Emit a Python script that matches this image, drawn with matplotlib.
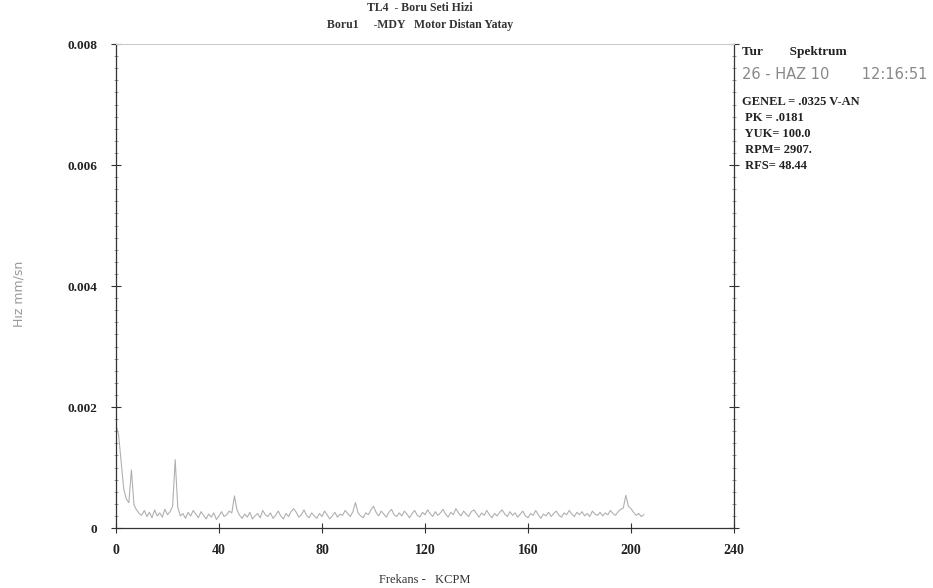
import numpy as np
import matplotlib.pyplot as plt
from matplotlib.ticker import MultipleLocator

# frekans ekseni (KCPM) ve hiz genligi (mm/sn)
frekans = np.arange(0, 206)
genlik_e4 = [
    17.0, 15.5, 11.0, 6.5, 4.8, 4.2, 9.6, 3.8, 3.0, 2.4,
    2.1, 2.9, 1.9, 2.6, 1.7, 3.0, 2.0, 2.5, 1.8, 3.1,
    2.2, 2.7, 3.6, 11.3, 3.4, 2.0, 2.4, 1.6, 2.6, 2.0,
    2.9, 2.3, 1.7, 2.7, 2.1, 1.5, 2.3, 1.8, 2.5, 1.4,
    2.0, 2.7, 1.9, 2.2, 2.8, 2.5, 5.3, 3.0, 2.1, 1.6,
    2.3, 1.8, 2.6, 1.5, 2.0, 2.4, 1.7, 2.9, 2.2, 1.9,
    2.5, 1.6, 2.1, 2.8, 2.0, 1.5, 2.4, 1.9, 2.7, 3.2,
    2.6, 1.8, 2.2, 3.0, 2.1, 1.7, 2.5, 2.0, 1.6, 2.4,
    1.9, 2.8, 2.2, 1.5, 2.0, 2.6, 1.8, 2.3, 2.1, 2.9,
    2.4, 1.9, 2.7, 4.2, 2.5, 2.0, 1.7, 2.5, 2.2, 3.0,
    3.6, 2.6, 2.0, 2.8, 2.3, 1.8, 2.6, 3.1, 2.2, 1.9,
    2.5, 2.0, 2.8, 2.3, 1.7, 2.4, 2.9, 2.1, 1.8, 2.6,
    2.2, 3.0, 2.4, 1.9, 2.7, 2.1, 2.5, 3.1, 2.3, 1.8,
    2.6, 2.2, 3.2, 2.5, 2.0, 2.8, 2.3, 1.9, 2.7, 3.0,
    2.4, 1.8, 2.5, 2.1, 2.9, 2.2, 1.7, 2.4, 2.0, 2.6,
    3.0, 2.3, 1.9, 2.7, 2.1, 2.5, 1.8, 2.3, 2.8, 2.0,
    1.7, 2.4, 2.1, 2.9, 2.2, 1.6, 2.3, 2.0, 2.6, 1.9,
    2.4, 2.8, 2.1, 1.8, 2.5, 2.2, 2.9, 2.3, 1.9, 2.6,
    2.2, 2.7, 2.0, 2.4, 1.9, 2.8, 2.3, 2.1, 2.6, 2.0,
    2.5, 2.2, 2.9, 2.4, 2.1, 2.7, 3.1, 3.3, 5.4, 3.6,
    3.2, 2.6, 2.1, 2.4, 1.9, 2.2,
]
genlik = np.array(genlik_e4) * 1e-4  # 1e-4 mm/sn -> mm/sn

x_ticks = [0, 40, 80, 120, 160, 200, 240]
y_ticks = [0, 0.002, 0.004, 0.006, 0.008]
y_labels = ['0', '0.002', '0.004', '0.006', '0.008']

serif = 'Liberation Serif'

fig = plt.figure(figsize=(9.33, 5.88), dpi=100)
ax = fig.add_axes([0.1243, 0.102, 0.6624, 0.823])

ax.plot(frekans, genlik, color='#b0b0b0', linewidth=0.8)

ax.set_xlim(0, 240)
ax.set_ylim(0, 0.008)
ax.set_xticks(x_ticks)
ax.set_xticklabels([str(t) for t in x_ticks], fontfamily=serif, fontweight='bold', fontsize=10, color='#222222')
ax.set_yticks(y_ticks)
ax.set_yticklabels(y_labels, fontfamily=serif, fontweight='bold', fontsize=9.5, color='#222222')
ax.yaxis.set_minor_locator(MultipleLocator(0.0002))
ax.tick_params(axis='both', which='major', direction='inout', length=7, width=0.8, color='#333333')
ax.tick_params(axis='y', which='major', right=True, pad=10)
ax.tick_params(axis='y', which='minor', direction='inout', length=2.5, width=0.5, color='#777777', right=True)
ax.tick_params(axis='x', which='major', pad=8)

for side in ['left', 'bottom', 'right']:
    ax.spines[side].set_color('#333333')
    ax.spines[side].set_linewidth(0.9)
ax.spines['top'].set_color('#cccccc')
ax.spines['top'].set_linewidth(0.8)

ax.set_xlabel('Frekans -   KCPM', fontfamily=serif, fontsize=9, color='#333333', labelpad=12)
fig.text(0.02, 0.5, 'Hız mm/sn', rotation=90, ha='center', va='center',
         fontsize=9, color='#999999', fontfamily='DejaVu Sans')

# baslik
fig.text(0.45, 0.986, 'TL4  - Boru Seti Hizi', ha='center', va='center',
         fontfamily=serif, fontweight='bold', fontsize=8.5, color='#333333')
fig.text(0.45, 0.957, 'Boru1     -MDY   Motor Distan Yatay', ha='center', va='center',
         fontfamily=serif, fontweight='bold', fontsize=8.5, color='#333333')

# sag taraftaki bilgi kutusu
fig.text(0.795, 0.912, 'Tur        Spektrum', ha='left', va='center',
         fontfamily=serif, fontweight='bold', fontsize=9.5, color='#222222')
fig.text(0.795, 0.874, '26 - HAZ 10       12:16:51', ha='left', va='center',
         fontfamily='DejaVu Sans', fontsize=10.5, color='#888888')
info = ['GENEL = .0325 V-AN', ' PK = .0181', ' YUK= 100.0', ' RPM= 2907.', ' RFS= 48.44']
for i, s in enumerate(info):
    fig.text(0.795, 0.826 - i * 0.027, s, ha='left', va='center',
             fontfamily=serif, fontweight='bold', fontsize=9, color='#222222')

plt.savefig('out.png', dpi=100)
